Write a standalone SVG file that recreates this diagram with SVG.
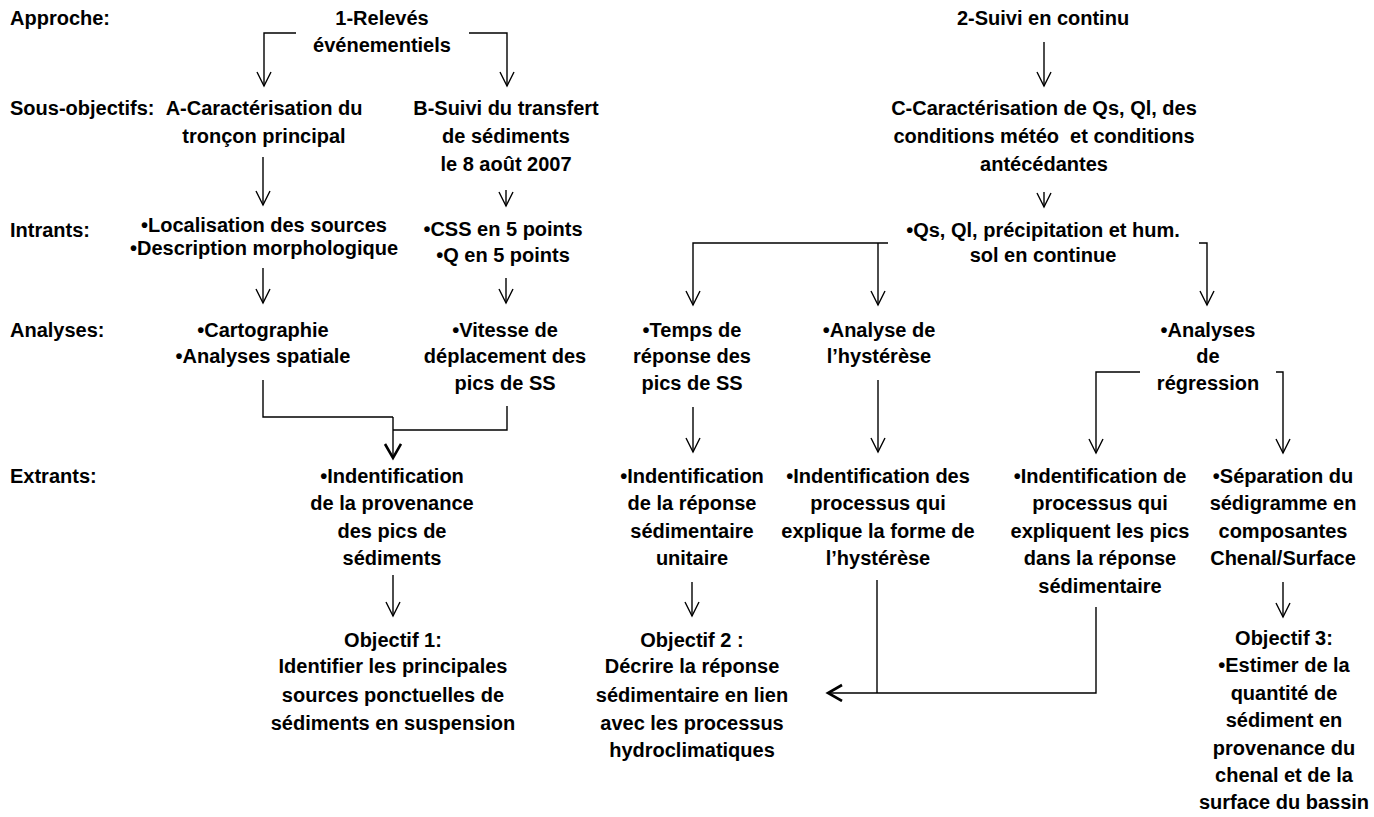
<svg xmlns="http://www.w3.org/2000/svg" width="1374" height="817" viewBox="0 0 1374 817">
<defs>
<style>
text{font-family:"Liberation Sans",Arial,sans-serif;font-weight:bold;font-size:20px;fill:#000}
.n text{text-anchor:middle}
.c path{fill:none;stroke:#000;stroke-width:1.4}
</style>
<marker id="ah" markerUnits="userSpaceOnUse" markerWidth="18" markerHeight="18" refX="15" refY="8" orient="auto">
<path d="M1,1 L15,8 L1,15" fill="none" stroke="#000" stroke-width="1.4"/>
</marker>
<marker id="ahb" markerUnits="userSpaceOnUse" markerWidth="20" markerHeight="20" refX="16" refY="9" orient="auto">
<path d="M2,1 L16,9 L2,17" fill="none" stroke="#000" stroke-width="2.6"/>
</marker>
</defs>
<rect width="1374" height="817" fill="#fff"/>

<g id="row-labels">
<text x="10" y="25">Approche:</text>
<text x="10" y="115">Sous-objectifs:</text>
<text x="10" y="237">Intrants:</text>
<text x="10" y="337">Analyses:</text>
<text x="10" y="483">Extrants:</text>
</g>

<g class="c" id="connectors">
<path d="M296,33 H264 V86" marker-end="url(#ah)"/>
<path d="M469,33 H507 V86" marker-end="url(#ah)"/>
<path d="M1044,42 V86" marker-end="url(#ah)"/>
<path d="M263,157 V205" marker-end="url(#ah)"/>
<path d="M506,190 V206" marker-end="url(#ah)"/>
<path d="M1044,192 V207" marker-end="url(#ah)"/>
<path d="M263,268 V303" marker-end="url(#ah)"/>
<path d="M506,278 V303" marker-end="url(#ah)"/>
<path d="M888,243 H693 V305" marker-end="url(#ah)"/>
<path d="M878,243 V305" marker-end="url(#ah)"/>
<path d="M1199,243 H1207 V305" marker-end="url(#ah)"/>
<path d="M263,380 V417 H393"/>
<path d="M507,406 V430 H393"/>
<path d="M393,417 V458" marker-end="url(#ahb)"/>
<path d="M693,407 V452" marker-end="url(#ah)"/>
<path d="M878,380 V452" marker-end="url(#ah)"/>
<path d="M1140,372 H1096 V453" marker-end="url(#ah)"/>
<path d="M1276,372 H1283 V453" marker-end="url(#ah)"/>
<path d="M393,575 V616" marker-end="url(#ah)"/>
<path d="M692,582 V616" marker-end="url(#ah)"/>
<path d="M1283,582 V617" marker-end="url(#ah)"/>
<path d="M877,580 V693"/>
<path d="M1096,607 V693 H828" marker-end="url(#ahb)"/>
</g>

<g class="n" id="n-releves"><text x="382" y="25">1-Relevés</text><text x="382" y="52">événementiels</text></g>
<g class="n" id="n-suivi"><text x="1043" y="25">2-Suivi en continu</text></g>
<g class="n" id="n-A"><text x="264" y="115">A-Caractérisation du</text><text x="264" y="143">tronçon principal</text></g>
<g class="n" id="n-B"><text x="506" y="115">B-Suivi du transfert</text><text x="506" y="143">de sédiments</text><text x="506" y="171">le 8 août 2007</text></g>
<g class="n" id="n-C"><text x="1044" y="115">C-Caractérisation de Qs, Ql, des</text><text x="1044" y="143">conditions météo&#160; et conditions</text><text x="1044" y="171">antécédantes</text></g>
<g class="n" id="n-intA"><text x="264" y="232">•Localisation des sources</text><text x="264" y="255">•Description morphologique</text></g>
<g class="n" id="n-intB"><text x="503" y="236">•CSS en 5 points</text><text x="503" y="262">•Q en 5 points</text></g>
<g class="n" id="n-intC"><text x="1043" y="237">•Qs, Ql, précipitation et hum.</text><text x="1043" y="262">sol en continue</text></g>
<g class="n" id="n-anA"><text x="263" y="337">•Cartographie</text><text x="263" y="363">•Analyses spatiale</text></g>
<g class="n" id="n-anB"><text x="505" y="337">•Vitesse de</text><text x="505" y="363">déplacement des</text><text x="505" y="390">pics de SS</text></g>
<g class="n" id="n-anT"><text x="692" y="337">•Temps de</text><text x="692" y="363">réponse des</text><text x="692" y="390">pics de SS</text></g>
<g class="n" id="n-anH"><text x="879" y="337">•Analyse de</text><text x="879" y="363">l’hystérèse</text></g>
<g class="n" id="n-anR"><text x="1208" y="337">•Analyses</text><text x="1208" y="363">de</text><text x="1208" y="390">régression</text></g>
<g class="n" id="n-ex1"><text x="392" y="483">•Indentification</text><text x="392" y="510">de la provenance</text><text x="392" y="538">des pics de</text><text x="392" y="565">sédiments</text></g>
<g class="n" id="n-ex2"><text x="692" y="483">•Indentification</text><text x="692" y="510">de la réponse</text><text x="692" y="538">sédimentaire</text><text x="692" y="565">unitaire</text></g>
<g class="n" id="n-ex3"><text x="878" y="483">•Indentification des</text><text x="878" y="510">processus qui</text><text x="878" y="538">explique la forme de</text><text x="878" y="565">l’hystérèse</text></g>
<g class="n" id="n-ex4"><text x="1100" y="483">•Indentification de</text><text x="1100" y="510">processus qui</text><text x="1100" y="538">expliquent les pics</text><text x="1100" y="565">dans la réponse</text><text x="1100" y="593">sédimentaire</text></g>
<g class="n" id="n-ex5"><text x="1283" y="483">•Séparation du</text><text x="1283" y="510">sédigramme en</text><text x="1283" y="538">composantes</text><text x="1283" y="565">Chenal/Surface</text></g>
<g class="n" id="n-obj1"><text x="393" y="647">Objectif 1:</text><text x="393" y="673">Identifier les principales</text><text x="393" y="702">sources ponctuelles de</text><text x="393" y="730">sédiments en suspension</text></g>
<g class="n" id="n-obj2"><text x="692" y="647">Objectif 2 :</text><text x="692" y="673">Décrire la réponse</text><text x="692" y="702">sédimentaire en lien</text><text x="692" y="730">avec les processus</text><text x="692" y="757">hydroclimatiques</text></g>
<g class="n" id="n-obj3"><text x="1284" y="645">Objectif 3:</text><text x="1284" y="672">•Estimer de la</text><text x="1284" y="700">quantité de</text><text x="1284" y="727">sédiment en</text><text x="1284" y="755">provenance du</text><text x="1284" y="782">chenal et de la</text><text x="1284" y="809">surface du bassin</text></g>
</svg>
